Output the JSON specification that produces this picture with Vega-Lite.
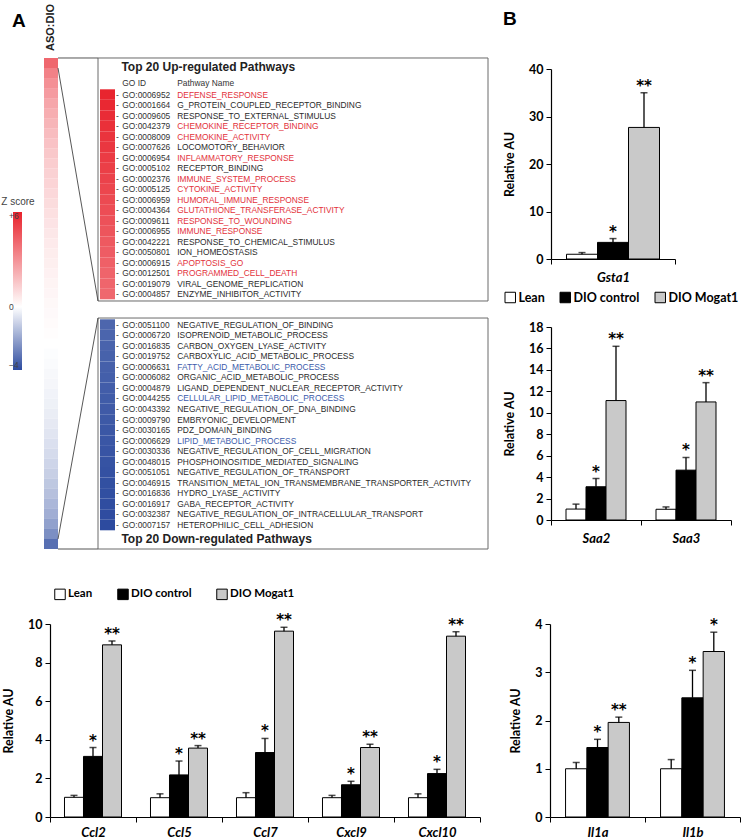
{
  "$schema": "https://vega.github.io/schema/vega-lite/v6.json",
  "padding": {"left": 1, "top": 3, "right": 0, "bottom": 0},
  "background": "white",
  "config": {
    "view": {"stroke": null},
    "font": "Lato",
    "axis": {"grid": false, "domainColor": "#000", "tickColor": "#000", "labelColor": "#000", "titleColor": "#000", "labelOverlap": false}
  },
  "datasets": {
    "bins": [
      {"r0": 0, "r1": 20, "z": 4.1}, {"r0": 20, "r1": 40, "z": 3.4}, {"r0": 40, "r1": 60, "z": 3.0}, {"r0": 60, "r1": 80, "z": 2.7},
      {"r0": 80, "r1": 100, "z": 2.4}, {"r0": 100, "r1": 120, "z": 2.2}, {"r0": 120, "r1": 140, "z": 2.0}, {"r0": 140, "r1": 160, "z": 1.8},
      {"r0": 160, "r1": 180, "z": 1.65}, {"r0": 180, "r1": 200, "z": 1.5}, {"r0": 200, "r1": 220, "z": 1.35}, {"r0": 220, "r1": 240, "z": 1.25},
      {"r0": 240, "r1": 260, "z": 1.15}, {"r0": 260, "r1": 280, "z": 1.05}, {"r0": 280, "r1": 300, "z": 0.95}, {"r0": 300, "r1": 320, "z": 0.85},
      {"r0": 320, "r1": 340, "z": 0.75}, {"r0": 340, "r1": 360, "z": 0.66}, {"r0": 360, "r1": 380, "z": 0.58}, {"r0": 380, "r1": 400, "z": 0.5},
      {"r0": 400, "r1": 420, "z": 0.44}, {"r0": 420, "r1": 440, "z": 0.37}, {"r0": 440, "r1": 460, "z": 0.31}, {"r0": 460, "r1": 480, "z": 0.26},
      {"r0": 480, "r1": 500, "z": 0.2}, {"r0": 500, "r1": 520, "z": 0.15}, {"r0": 520, "r1": 540, "z": 0.1}, {"r0": 540, "r1": 560, "z": 0.05},
      {"r0": 560, "r1": 580, "z": 0.0}, {"r0": 580, "r1": 600, "z": -0.05}, {"r0": 600, "r1": 620, "z": -0.1}, {"r0": 620, "r1": 640, "z": -0.15},
      {"r0": 640, "r1": 660, "z": -0.2}, {"r0": 660, "r1": 680, "z": -0.26}, {"r0": 680, "r1": 700, "z": -0.32}, {"r0": 700, "r1": 720, "z": -0.4},
      {"r0": 720, "r1": 740, "z": -0.48}, {"r0": 740, "r1": 760, "z": -0.57}, {"r0": 760, "r1": 780, "z": -0.68}, {"r0": 780, "r1": 800, "z": -0.8},
      {"r0": 800, "r1": 820, "z": -0.93}, {"r0": 820, "r1": 840, "z": -1.07}, {"r0": 840, "r1": 860, "z": -1.23}, {"r0": 860, "r1": 880, "z": -1.4},
      {"r0": 880, "r1": 900, "z": -1.6}, {"r0": 900, "r1": 920, "z": -1.8}, {"r0": 920, "r1": 940, "z": -2.1}, {"r0": 940, "r1": 960, "z": -2.5},
      {"r0": 960, "r1": 980, "z": -3.2}
    ],
    "up": [
      {"rank": 1, "go": "GO:0006952", "name": "DEFENSE_RESPONSE", "hl": "up", "z": 5.9},
      {"rank": 2, "go": "GO:0001664", "name": "G_PROTEIN_COUPLED_RECEPTOR_BINDING", "hl": "", "z": 5.8},
      {"rank": 3, "go": "GO:0009605", "name": "RESPONSE_TO_EXTERNAL_STIMULUS", "hl": "", "z": 5.7},
      {"rank": 4, "go": "GO:0042379", "name": "CHEMOKINE_RECEPTOR_BINDING", "hl": "up", "z": 5.6},
      {"rank": 5, "go": "GO:0008009", "name": "CHEMOKINE_ACTIVITY", "hl": "up", "z": 5.5},
      {"rank": 6, "go": "GO:0007626", "name": "LOCOMOTORY_BEHAVIOR", "hl": "", "z": 5.4},
      {"rank": 7, "go": "GO:0006954", "name": "INFLAMMATORY_RESPONSE", "hl": "up", "z": 5.3},
      {"rank": 8, "go": "GO:0005102", "name": "RECEPTOR_BINDING", "hl": "", "z": 5.2},
      {"rank": 9, "go": "GO:0002376", "name": "IMMUNE_SYSTEM_PROCESS", "hl": "up", "z": 5.1},
      {"rank": 10, "go": "GO:0005125", "name": "CYTOKINE_ACTIVITY", "hl": "up", "z": 5.0},
      {"rank": 11, "go": "GO:0006959", "name": "HUMORAL_IMMUNE_RESPONSE", "hl": "up", "z": 4.9},
      {"rank": 12, "go": "GO:0004364", "name": "GLUTATHIONE_TRANSFERASE_ACTIVITY", "hl": "up", "z": 4.8},
      {"rank": 13, "go": "GO:0009611", "name": "RESPONSE_TO_WOUNDING", "hl": "up", "z": 4.7},
      {"rank": 14, "go": "GO:0006955", "name": "IMMUNE_RESPONSE", "hl": "up", "z": 4.6},
      {"rank": 15, "go": "GO:0042221", "name": "RESPONSE_TO_CHEMICAL_STIMULUS", "hl": "", "z": 4.5},
      {"rank": 16, "go": "GO:0050801", "name": "ION_HOMEOSTASIS", "hl": "", "z": 4.4},
      {"rank": 17, "go": "GO:0006915", "name": "APOPTOSIS_GO", "hl": "up", "z": 4.3},
      {"rank": 18, "go": "GO:0012501", "name": "PROGRAMMED_CELL_DEATH", "hl": "up", "z": 4.2},
      {"rank": 19, "go": "GO:0019079", "name": "VIRAL_GENOME_REPLICATION", "hl": "", "z": 4.15},
      {"rank": 20, "go": "GO:0004857", "name": "ENZYME_INHIBITOR_ACTIVITY", "hl": "", "z": 4.1}
    ],
    "down": [
      {"rank": 1, "go": "GO:0051100", "name": "NEGATIVE_REGULATION_OF_BINDING", "hl": "", "z": -3.4},
      {"rank": 2, "go": "GO:0006720", "name": "ISOPRENOID_METABOLIC_PROCESS", "hl": "", "z": -3.43},
      {"rank": 3, "go": "GO:0016835", "name": "CARBON_OXYGEN_LYASE_ACTIVITY", "hl": "", "z": -3.46},
      {"rank": 4, "go": "GO:0019752", "name": "CARBOXYLIC_ACID_METABOLIC_PROCESS", "hl": "", "z": -3.5},
      {"rank": 5, "go": "GO:0006631", "name": "FATTY_ACID_METABOLIC_PROCESS", "hl": "down", "z": -3.53},
      {"rank": 6, "go": "GO:0006082", "name": "ORGANIC_ACID_METABOLIC_PROCESS", "hl": "", "z": -3.56},
      {"rank": 7, "go": "GO:0004879", "name": "LIGAND_DEPENDENT_NUCLEAR_RECEPTOR_ACTIVITY", "hl": "", "z": -3.6},
      {"rank": 8, "go": "GO:0044255", "name": "CELLULAR_LIPID_METABOLIC_PROCESS", "hl": "down", "z": -3.63},
      {"rank": 9, "go": "GO:0043392", "name": "NEGATIVE_REGULATION_OF_DNA_BINDING", "hl": "", "z": -3.66},
      {"rank": 10, "go": "GO:0009790", "name": "EMBRYONIC_DEVELOPMENT", "hl": "", "z": -3.7},
      {"rank": 11, "go": "GO:0030165", "name": "PDZ_DOMAIN_BINDING", "hl": "", "z": -3.73},
      {"rank": 12, "go": "GO:0006629", "name": "LIPID_METABOLIC_PROCESS", "hl": "down", "z": -3.76},
      {"rank": 13, "go": "GO:0030336", "name": "NEGATIVE_REGULATION_OF_CELL_MIGRATION", "hl": "", "z": -3.8},
      {"rank": 14, "go": "GO:0048015", "name": "PHOSPHOINOSITIDE_MEDIATED_SIGNALING", "hl": "", "z": -3.83},
      {"rank": 15, "go": "GO:0051051", "name": "NEGATIVE_REGULATION_OF_TRANSPORT", "hl": "", "z": -3.86},
      {"rank": 16, "go": "GO:0046915", "name": "TRANSITION_METAL_ION_TRANSMEMBRANE_TRANSPORTER_ACTIVITY", "hl": "", "z": -3.9},
      {"rank": 17, "go": "GO:0016836", "name": "HYDRO_LYASE_ACTIVITY", "hl": "", "z": -3.92},
      {"rank": 18, "go": "GO:0016917", "name": "GABA_RECEPTOR_ACTIVITY", "hl": "", "z": -3.95},
      {"rank": 19, "go": "GO:0032387", "name": "NEGATIVE_REGULATION_OF_INTRACELLULAR_TRANSPORT", "hl": "", "z": -3.97},
      {"rank": 20, "go": "GO:0007157", "name": "HETEROPHILIC_CELL_ADHESION", "hl": "", "z": -4.0}
    ],
    "gsta": [
      {"gene": "Gsta1", "group": "Lean", "mean": 1.0, "upper": 1.35, "sig": ""},
      {"gene": "Gsta1", "group": "DIO control", "mean": 3.5, "upper": 4.3, "sig": "*"},
      {"gene": "Gsta1", "group": "DIO Mogat1", "mean": 27.7, "upper": 35.0, "sig": "**"}
    ],
    "saa": [
      {"gene": "Saa2", "group": "Lean", "mean": 1.02, "upper": 1.48, "sig": ""},
      {"gene": "Saa2", "group": "DIO control", "mean": 3.1, "upper": 3.87, "sig": "*"},
      {"gene": "Saa2", "group": "DIO Mogat1", "mean": 11.14, "upper": 16.2, "sig": "**"},
      {"gene": "Saa3", "group": "Lean", "mean": 1.0, "upper": 1.22, "sig": ""},
      {"gene": "Saa3", "group": "DIO control", "mean": 4.65, "upper": 5.83, "sig": "*"},
      {"gene": "Saa3", "group": "DIO Mogat1", "mean": 11.01, "upper": 12.81, "sig": "**"}
    ],
    "ccl": [
      {"gene": "Ccl2", "group": "Lean", "mean": 1.02, "upper": 1.12, "sig": ""},
      {"gene": "Ccl2", "group": "DIO control", "mean": 3.14, "upper": 3.6, "sig": "*"},
      {"gene": "Ccl2", "group": "DIO Mogat1", "mean": 8.92, "upper": 9.12, "sig": "**"},
      {"gene": "Ccl5", "group": "Lean", "mean": 1.0, "upper": 1.2, "sig": ""},
      {"gene": "Ccl5", "group": "DIO control", "mean": 2.18, "upper": 2.9, "sig": "*"},
      {"gene": "Ccl5", "group": "DIO Mogat1", "mean": 3.57, "upper": 3.7, "sig": "**"},
      {"gene": "Ccl7", "group": "Lean", "mean": 1.0, "upper": 1.26, "sig": ""},
      {"gene": "Ccl7", "group": "DIO control", "mean": 3.34, "upper": 4.07, "sig": "*"},
      {"gene": "Ccl7", "group": "DIO Mogat1", "mean": 9.63, "upper": 9.83, "sig": "**"},
      {"gene": "Cxcl9", "group": "Lean", "mean": 1.0, "upper": 1.12, "sig": ""},
      {"gene": "Cxcl9", "group": "DIO control", "mean": 1.67, "upper": 1.85, "sig": "*"},
      {"gene": "Cxcl9", "group": "DIO Mogat1", "mean": 3.6, "upper": 3.77, "sig": "**"},
      {"gene": "Cxcl10", "group": "Lean", "mean": 1.0, "upper": 1.2, "sig": ""},
      {"gene": "Cxcl10", "group": "DIO control", "mean": 2.25, "upper": 2.47, "sig": "*"},
      {"gene": "Cxcl10", "group": "DIO Mogat1", "mean": 9.37, "upper": 9.6, "sig": "**"}
    ],
    "il1": [
      {"gene": "Il1a", "group": "Lean", "mean": 1.0, "upper": 1.13, "sig": ""},
      {"gene": "Il1a", "group": "DIO control", "mean": 1.44, "upper": 1.61, "sig": "*"},
      {"gene": "Il1a", "group": "DIO Mogat1", "mean": 1.96, "upper": 2.07, "sig": "**"},
      {"gene": "Il1b", "group": "Lean", "mean": 1.0, "upper": 1.19, "sig": ""},
      {"gene": "Il1b", "group": "DIO control", "mean": 2.47, "upper": 3.04, "sig": "*"},
      {"gene": "Il1b", "group": "DIO Mogat1", "mean": 3.43, "upper": 3.83, "sig": "*"}
    ]
  },
  "resolve": {"scale": {"color": "independent", "xOffset": "independent"}},
  "spacing": 38,
  "vconcat": [
    {
      "spacing": 14,
      "resolve": {"scale": {"color": "independent", "xOffset": "independent"}},
      "hconcat": [
        {
          "width": 438,
          "height": 480,
          "title": {"text": "A", "anchor": "start", "frame": "group", "dx": -38, "offset": 0, "dy": 27, "fontSize": 19, "font": "Liberation Sans", "fontWeight": "bold", "color": "#000"},
          "resolve": {"scale": {"y": "independent"}},
          "layer": [
            {
              "layer": [
                {
                  "data": {"name": "bins"},
                  "mark": {"type": "rect"},
                  "encoding": {
                    "x": {"datum": -1.37, "type": "quantitative", "scale": {"domain": [0, 100], "nice": false, "zero": false}, "axis": null},
                    "x2": {"datum": 1.83},
                    "y": {"field": "r0", "type": "quantitative", "scale": {"domain": [21.96, 980], "reverse": true, "nice": false, "zero": false}, "axis": null},
                    "y2": {"field": "r1"},
                    "color": {"field": "z", "type": "quantitative",
                      "scale": {"domain": [-4, 0, 6], "range": ["#2d4b9f", "#ffffff", "#e8212b"], "interpolate": "rgb"},
                      "legend": {"orient": "none", "legendX": -49, "legendY": 128, "title": "Z score", "titleAnchor": "middle", "titleFont": "Liberation Sans", "titleFontSize": 10, "titleFontWeight": "normal", "titleColor": "#444", "titlePadding": 5, "direction": "vertical", "gradientLength": 158, "gradientThickness": 9, "gradientStrokeWidth": 0, "values": [6, 0, -4], "labelExpr": "datum.value > 0 ? '+' + datum.label : datum.label", "labelOffset": -13, "labelAlign": "right", "labelFont": "Liberation Sans", "labelFontSize": 8.5, "labelColor": "#444"}
                    }
                  }
                },
                {
                  "data": {"values": [{}]},
                  "mark": {"type": "rect", "fill": "transparent", "stroke": "#6a6a6a", "strokeWidth": 1},
                  "encoding": {"x": {"datum": 10.96, "type": "quantitative", "axis": null}, "x2": {"datum": 100}, "y": {"datum": 0, "type": "quantitative", "axis": null}, "y2": {"datum": 485}}
                },
                {
                  "data": {"values": [{}]},
                  "mark": {"type": "rect", "fill": "transparent", "stroke": "#6a6a6a", "strokeWidth": 1},
                  "encoding": {"x": {"datum": 10.96, "type": "quantitative", "axis": null}, "x2": {"datum": 100}, "y": {"datum": 519, "type": "quantitative", "axis": null}, "y2": {"datum": 980}}
                },
                {
                  "data": {"values": [{}]},
                  "mark": {"type": "rule", "stroke": "#555", "strokeWidth": 1},
                  "encoding": {"x": {"datum": 1.83, "type": "quantitative", "axis": null}, "x2": {"datum": 10.96}, "y": {"datum": 0, "type": "quantitative", "axis": null}, "y2": {"datum": 0}}
                },
                {
                  "data": {"values": [{}]},
                  "mark": {"type": "rule", "stroke": "#555", "strokeWidth": 1},
                  "encoding": {"x": {"datum": 1.83, "type": "quantitative", "axis": null}, "x2": {"datum": 10.96}, "y": {"datum": 980, "type": "quantitative", "axis": null}, "y2": {"datum": 980}}
                },
                {
                  "data": {"values": [{}]},
                  "mark": {"type": "rule", "stroke": "#444", "strokeWidth": 0.9},
                  "encoding": {"x": {"datum": 1.83, "type": "quantitative", "axis": null}, "x2": {"datum": 10.96}, "y": {"datum": 20, "type": "quantitative", "axis": null}, "y2": {"datum": 485}}
                },
                {
                  "data": {"values": [{}]},
                  "mark": {"type": "rule", "stroke": "#444", "strokeWidth": 0.9},
                  "encoding": {"x": {"datum": 1.83, "type": "quantitative", "axis": null}, "x2": {"datum": 10.96}, "y": {"datum": 960, "type": "quantitative", "axis": null}, "y2": {"datum": 519}}
                },
                {
                  "data": {"values": [{}]},
                  "mark": {"type": "text", "text": "ASO:DIO", "angle": 270, "align": "left", "baseline": "middle", "font": "Liberation Sans", "fontSize": 11, "fontWeight": "bold", "color": "#222"},
                  "encoding": {"x": {"datum": 0.23, "type": "quantitative", "axis": null}, "y": {"datum": -14, "type": "quantitative", "axis": null}}
                },
                {
                  "data": {"values": [{}]},
                  "mark": {"type": "text", "text": "Top 20 Up-regulated Pathways", "align": "left", "baseline": "middle", "font": "Liberation Sans", "fontSize": 12, "fontWeight": "bold", "color": "#222"},
                  "encoding": {"x": {"datum": 16.3, "type": "quantitative", "axis": null}, "y": {"datum": 18, "type": "quantitative", "axis": null}}
                },
                {
                  "data": {"values": [{}]},
                  "mark": {"type": "text", "text": "GO ID", "align": "left", "baseline": "middle", "font": "Liberation Sans", "fontSize": 8.4, "color": "#333"},
                  "encoding": {"x": {"datum": 16.5, "type": "quantitative", "axis": null}, "y": {"datum": 50, "type": "quantitative", "axis": null}}
                },
                {
                  "data": {"values": [{}]},
                  "mark": {"type": "text", "text": "Pathway Name", "align": "left", "baseline": "middle", "font": "Liberation Sans", "fontSize": 8.4, "color": "#333"},
                  "encoding": {"x": {"datum": 29.06, "type": "quantitative", "axis": null}, "y": {"datum": 50, "type": "quantitative", "axis": null}}
                },
                {
                  "data": {"values": [{}]},
                  "mark": {"type": "text", "text": "Top 20 Down-regulated Pathways", "align": "left", "baseline": "middle", "font": "Liberation Sans", "fontSize": 12, "fontWeight": "bold", "color": "#222"},
                  "encoding": {"x": {"datum": 16.3, "type": "quantitative", "axis": null}, "y": {"datum": 961, "type": "quantitative", "axis": null}}
                }
              ]
            },
            {
              "data": {"name": "up"},
              "encoding": {"y": {"field": "rank", "type": "ordinal", "scale": {"type": "band", "range": [20.3, 230.3], "paddingInner": 0, "paddingOuter": 0, "round": false}, "axis": null}},
              "layer": [
                {"mark": {"type": "rect"}, "encoding": {"x": {"datum": 11.42, "type": "quantitative", "axis": null}, "x2": {"datum": 14.84}, "color": {"field": "z", "type": "quantitative"}}},
                {"mark": {"type": "text", "text": "-", "align": "left", "baseline": "middle", "font": "Liberation Sans", "fontSize": 8.4, "color": "#333"}, "encoding": {"x": {"datum": 15.07, "type": "quantitative", "axis": null}}},
                {"mark": {"type": "text", "align": "left", "baseline": "middle", "font": "Liberation Sans", "fontSize": 8.4, "color": "#333"}, "encoding": {"x": {"datum": 16.5, "type": "quantitative", "axis": null}, "text": {"field": "go"}}},
                {"mark": {"type": "text", "align": "left", "baseline": "middle", "font": "Liberation Sans", "fontSize": 8.4}, "encoding": {"x": {"datum": 29.06, "type": "quantitative", "axis": null}, "text": {"field": "name"}, "color": {"condition": [{"test": "datum.hl === 'up'", "value": "#e3323b"}, {"test": "datum.hl === 'down'", "value": "#3b5bab"}], "value": "#2b2b2b"}}}
              ]
            },
            {
              "data": {"name": "down"},
              "encoding": {"y": {"field": "rank", "type": "ordinal", "scale": {"type": "band", "range": [250.3, 461.3], "paddingInner": 0, "paddingOuter": 0, "round": false}, "axis": null}},
              "layer": [
                {"mark": {"type": "rect"}, "encoding": {"x": {"datum": 11.42, "type": "quantitative", "axis": null}, "x2": {"datum": 14.84}, "color": {"field": "z", "type": "quantitative"}}},
                {"mark": {"type": "text", "text": "-", "align": "left", "baseline": "middle", "font": "Liberation Sans", "fontSize": 8.4, "color": "#333"}, "encoding": {"x": {"datum": 15.07, "type": "quantitative", "axis": null}}},
                {"mark": {"type": "text", "align": "left", "baseline": "middle", "font": "Liberation Sans", "fontSize": 8.4, "color": "#333"}, "encoding": {"x": {"datum": 16.5, "type": "quantitative", "axis": null}, "text": {"field": "go"}}},
                {"mark": {"type": "text", "align": "left", "baseline": "middle", "font": "Liberation Sans", "fontSize": 8.4}, "encoding": {"x": {"datum": 29.06, "type": "quantitative", "axis": null}, "text": {"field": "name"}, "color": {"condition": [{"test": "datum.hl === 'up'", "value": "#e3323b"}, {"test": "datum.hl === 'down'", "value": "#3b5bab"}], "value": "#2b2b2b"}}}
              ]
            }
          ]
        },
        {
          "spacing": 16,
          "resolve": {"scale": {"color": "independent", "xOffset": "independent"}},
          "vconcat": [
            {
              "width": 124,
              "height": 190,
              "data": {"name": "gsta"},
              "title": {"text": "B", "anchor": "start", "frame": "group", "dx": -48, "offset": 34, "fontSize": 19, "font": "Liberation Sans", "fontWeight": "bold", "color": "#000"},
              "encoding": {
                "x": {"field": "gene", "type": "nominal", "title": null, "scale": {"paddingInner": 0, "paddingOuter": 0}, "axis": {"labelAngle": 0, "labelFontStyle": "italic", "labelFontWeight": "bold", "labelFontSize": 13, "labelPadding": 7, "tickBand": "extent", "tickSize": 5, "domainWidth": 1.2}},
                "xOffset": {"field": "group", "type": "nominal", "scale": {"domain": ["Lean", "DIO control", "DIO Mogat1"], "paddingInner": 0, "paddingOuter": 0.5}}
              },
              "layer": [
                {"mark": {"type": "bar", "stroke": "#000", "strokeWidth": 1},
                 "encoding": {
                   "y": {"field": "mean", "type": "quantitative", "title": "Relative AU", "scale": {"domain": [0, 40], "nice": false}, "axis": {"values": [0, 10, 20, 30, 40], "format": "d", "tickCount": 20, "labelOverlap": false, "titleFontSize": 12.5, "titleFontWeight": "bold", "titlePadding": 12, "labelFontSize": 12.5, "labelFontWeight": "bold", "labelPadding": 3, "tickSize": 5, "domainWidth": 1.2}},
                   "color": {"field": "group", "type": "nominal", "scale": {"domain": ["Lean", "DIO control", "DIO Mogat1"], "range": ["#ffffff", "#000000", "#c9c9c9"]},
                     "legend": {"orient": "none", "legendX": -47, "legendY": 222, "direction": "horizontal", "title": null, "symbolType": "square", "symbolSize": 110, "symbolStrokeColor": "#000", "symbolStrokeWidth": 1, "labelFont": "Lato", "labelFontSize": 12.5, "labelFontWeight": "bold", "labelColor": "#000", "labelOffset": 2, "columnPadding": 13}}
                 }},
                {"mark": {"type": "rule", "color": "#000", "strokeWidth": 1.3}, "encoding": {"y": {"field": "mean", "type": "quantitative", "title": "Relative AU"}, "y2": {"field": "upper"}}},
                {"mark": {"type": "tick", "orient": "horizontal", "color": "#000", "size": 7, "thickness": 1.5}, "encoding": {"y": {"field": "upper", "type": "quantitative", "title": "Relative AU"}}},
                {"mark": {"type": "text", "font": "DejaVu Sans", "fontSize": 15, "fontWeight": "bold", "baseline": "middle", "dy": -7, "fill": "#000"}, "encoding": {"y": {"field": "upper", "type": "quantitative", "title": "Relative AU"}, "text": {"field": "sig"}}}
              ]
            },
            {
              "width": 180,
              "height": 193,
              "data": {"name": "saa"},
              "encoding": {
                "x": {"field": "gene", "type": "nominal", "title": null, "sort": ["Saa2", "Saa3"], "scale": {"paddingInner": 0, "paddingOuter": 0}, "axis": {"labelAngle": 0, "labelFontStyle": "italic", "labelFontWeight": "bold", "labelFontSize": 13, "labelPadding": 7, "tickBand": "extent", "tickSize": 5, "domainWidth": 1.2}},
                "xOffset": {"field": "group", "type": "nominal", "scale": {"domain": ["Lean", "DIO control", "DIO Mogat1"], "paddingInner": 0, "paddingOuter": 0.75}}
              },
              "layer": [
                {"mark": {"type": "bar", "stroke": "#000", "strokeWidth": 1},
                 "encoding": {
                   "y": {"field": "mean", "type": "quantitative", "title": "Relative AU", "scale": {"domain": [0, 18], "nice": false}, "axis": {"values": [0, 2, 4, 6, 8, 10, 12, 14, 16, 18], "format": "d", "tickCount": 20, "labelOverlap": false, "titleFontSize": 12.5, "titleFontWeight": "bold", "titlePadding": 12, "labelFontSize": 12.5, "labelFontWeight": "bold", "labelPadding": 3, "tickSize": 5, "domainWidth": 1.2}},
                   "color": {"field": "group", "type": "nominal", "scale": {"domain": ["Lean", "DIO control", "DIO Mogat1"], "range": ["#ffffff", "#000000", "#c9c9c9"]}, "legend": null}
                 }},
                {"mark": {"type": "rule", "color": "#000", "strokeWidth": 1.3}, "encoding": {"y": {"field": "mean", "type": "quantitative", "title": "Relative AU"}, "y2": {"field": "upper"}}},
                {"mark": {"type": "tick", "orient": "horizontal", "color": "#000", "size": 7, "thickness": 1.5}, "encoding": {"y": {"field": "upper", "type": "quantitative", "title": "Relative AU"}}},
                {"mark": {"type": "text", "font": "DejaVu Sans", "fontSize": 15, "fontWeight": "bold", "baseline": "middle", "dy": -7, "fill": "#000"}, "encoding": {"y": {"field": "upper", "type": "quantitative", "title": "Relative AU"}, "text": {"field": "sig"}}}
              ]
            }
          ]
        }
      ]
    },
    {
      "spacing": 28,
      "resolve": {"scale": {"color": "independent", "xOffset": "independent"}},
      "hconcat": [
        {
          "width": 430,
          "height": 193,
          "data": {"name": "ccl"},
          "encoding": {
            "x": {"field": "gene", "type": "nominal", "title": null, "sort": ["Ccl2", "Ccl5", "Ccl7", "Cxcl9", "Cxcl10"], "scale": {"paddingInner": 0, "paddingOuter": 0}, "axis": {"labelAngle": 0, "labelFontStyle": "italic", "labelFontWeight": "bold", "labelFontSize": 13, "labelPadding": 4, "tickBand": "extent", "tickSize": 5, "domainWidth": 1.2}},
            "xOffset": {"field": "group", "type": "nominal", "scale": {"domain": ["Lean", "DIO control", "DIO Mogat1"], "paddingInner": 0, "paddingOuter": 0.763}}
          },
          "layer": [
            {"mark": {"type": "bar", "stroke": "#000", "strokeWidth": 1},
             "encoding": {
               "y": {"field": "mean", "type": "quantitative", "title": "Relative AU", "scale": {"domain": [0, 10], "nice": false}, "axis": {"values": [0, 2, 4, 6, 8, 10], "format": "d", "tickCount": 20, "labelOverlap": false, "titleFontSize": 12.5, "titleFontWeight": "bold", "titlePadding": 12, "labelFontSize": 12.5, "labelFontWeight": "bold", "labelPadding": 3, "tickSize": 5, "domainWidth": 1.2}},
               "color": {"field": "group", "type": "nominal", "scale": {"domain": ["Lean", "DIO control", "DIO Mogat1"], "range": ["#ffffff", "#000000", "#c9c9c9"]},
                 "legend": {"orient": "none", "legendX": 4, "legendY": -36, "direction": "horizontal", "title": null, "symbolType": "square", "symbolSize": 110, "symbolStrokeColor": "#000", "symbolStrokeWidth": 1, "labelFont": "Lato", "labelFontSize": 11.5, "labelFontWeight": "bold", "labelColor": "#000", "labelOffset": 2, "columnPadding": 22}}
             }},
            {"mark": {"type": "rule", "color": "#000", "strokeWidth": 1.3}, "encoding": {"y": {"field": "mean", "type": "quantitative", "title": "Relative AU"}, "y2": {"field": "upper"}}},
            {"mark": {"type": "tick", "orient": "horizontal", "color": "#000", "size": 7, "thickness": 1.5}, "encoding": {"y": {"field": "upper", "type": "quantitative", "title": "Relative AU"}}},
            {"mark": {"type": "text", "font": "DejaVu Sans", "fontSize": 15, "fontWeight": "bold", "baseline": "middle", "dy": -7, "fill": "#000"}, "encoding": {"y": {"field": "upper", "type": "quantitative", "title": "Relative AU"}, "text": {"field": "sig"}}}
          ]
        },
        {
          "width": 190,
          "height": 193,
          "data": {"name": "il1"},
          "encoding": {
            "x": {"field": "gene", "type": "nominal", "title": null, "sort": ["Il1a", "Il1b"], "scale": {"paddingInner": 0, "paddingOuter": 0}, "axis": {"labelAngle": 0, "labelFontStyle": "italic", "labelFontWeight": "bold", "labelFontSize": 13, "labelPadding": 4, "tickBand": "extent", "tickSize": 5, "domainWidth": 1.2}},
            "xOffset": {"field": "group", "type": "nominal", "scale": {"domain": ["Lean", "DIO control", "DIO Mogat1"], "paddingInner": 0, "paddingOuter": 0.73}}
          },
          "layer": [
            {"mark": {"type": "bar", "stroke": "#000", "strokeWidth": 1},
             "encoding": {
               "y": {"field": "mean", "type": "quantitative", "title": "Relative AU", "scale": {"domain": [0, 4], "nice": false}, "axis": {"values": [0, 1, 2, 3, 4], "format": "d", "tickCount": 20, "labelOverlap": false, "titleFontSize": 12.5, "titleFontWeight": "bold", "titlePadding": 12, "labelFontSize": 12.5, "labelFontWeight": "bold", "labelPadding": 3, "tickSize": 5, "domainWidth": 1.2}},
               "color": {"field": "group", "type": "nominal", "scale": {"domain": ["Lean", "DIO control", "DIO Mogat1"], "range": ["#ffffff", "#000000", "#c9c9c9"]}, "legend": null}
             }},
            {"mark": {"type": "rule", "color": "#000", "strokeWidth": 1.3}, "encoding": {"y": {"field": "mean", "type": "quantitative", "title": "Relative AU"}, "y2": {"field": "upper"}}},
            {"mark": {"type": "tick", "orient": "horizontal", "color": "#000", "size": 7, "thickness": 1.5}, "encoding": {"y": {"field": "upper", "type": "quantitative", "title": "Relative AU"}}},
            {"mark": {"type": "text", "font": "DejaVu Sans", "fontSize": 15, "fontWeight": "bold", "baseline": "middle", "dy": -7, "fill": "#000"}, "encoding": {"y": {"field": "upper", "type": "quantitative", "title": "Relative AU"}, "text": {"field": "sig"}}}
          ]
        }
      ]
    }
  ]
}
